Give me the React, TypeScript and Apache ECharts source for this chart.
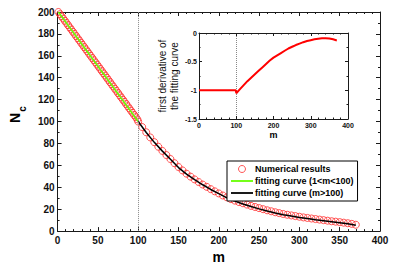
import React, { useEffect, useRef } from "react";
import * as echarts from "echarts";

// Numerical results (linear part, m = 1..99)
const mLin = [1, 3, 5, 7, 9, 11, 13, 15, 17, 19, 21, 23, 25, 27, 29, 31, 33, 35, 37, 39, 41, 43, 45, 47, 49, 51, 53, 55, 57, 59, 61, 63, 65, 67, 69, 71, 73, 75, 77, 79, 81, 83, 85, 87, 89, 91, 93, 95, 97, 99];
const nLin = [200, 198, 196, 194, 192, 190, 188, 186, 184, 182, 180, 178, 176, 174, 172, 170, 168, 166, 164, 162, 160, 158, 156, 154, 152, 150, 148, 146, 144, 142, 140, 138, 136, 134, 132, 130, 128, 126, 124, 122, 120, 118, 116, 114, 112, 110, 108, 106, 104, 102];
// Numerical results (m >= 100)
const mTail = [100, 105, 110, 115, 120, 125, 130, 135, 140, 145, 150, 155, 160, 165, 170, 175, 180, 185, 190, 195, 200, 205, 210, 215, 220, 225, 230, 235, 240, 245, 250, 255, 260, 265, 270, 275, 280, 285, 290, 295, 300, 305, 310, 315, 320, 325, 330, 335, 340, 345, 350, 355, 360, 365, 370];
const nTail = [100, 95, 90.2, 85.5, 81.2, 77, 73.2, 69.4, 65.8, 62, 58.5, 55.4, 52.4, 49.7, 47.2, 44.8, 42.5, 40.4, 38.3, 36.3, 34.4, 32.5, 30.8, 29.2, 27.8, 26.5, 25.4, 24.2, 23, 22, 21, 20, 19, 18.1, 17.2, 16.4, 15.6, 14.9, 14.3, 13.7, 13.1, 12.5, 12, 11.5, 11, 10.5, 10, 9.5, 9, 8.6, 8.2, 7.7, 7.2, 6.6, 5.8];

// fitting curve (1<m<100)
const fit1M = [1, 100];
const fit1N = [200, 100];
// fitting curve (m>100)
const fit2M = [100, 110, 120, 130, 140, 150, 160, 170, 180, 190, 200, 210, 220, 230, 240, 250, 260, 270, 280, 290, 300, 310, 320, 330, 340, 350, 360, 370];
const fit2N = [100, 90, 81, 73, 65.5, 58, 52, 47, 42.3, 38, 34.2, 30.4, 27.4, 24.8, 22.4, 20.3, 18.3, 16.6, 15, 13.7, 12.5, 11.4, 10.4, 9.5, 8.6, 7.7, 6.7, 5.4];

// inset: first derivative of the fitting curve
const derivM = [0, 99, 100, 110, 120, 130, 140, 150, 160, 170, 180, 190, 200, 210, 220, 230, 240, 250, 260, 270, 280, 290, 300, 310, 320, 330, 340, 350, 360, 370];
const derivV = [-1, -1, -1.05, -0.98, -0.91, -0.84, -0.78, -0.72, -0.66, -0.6, -0.54, -0.48, -0.43, -0.39, -0.35, -0.31, -0.27, -0.24, -0.21, -0.185, -0.16, -0.14, -0.125, -0.11, -0.1, -0.092, -0.09, -0.095, -0.11, -0.13];

const mainXTicks = { min: 0, max: 400, interval: 50 };
const mainYTicks = { min: 0, max: 200, interval: 20 };
const insetXTicks = { min: 0, max: 400, interval: 100 };
const insetYTicks = { min: -1.5, max: 0, interval: 0.5 };

const FONT = "'Liberation Sans', Arial, Helvetica, sans-serif";
const AX = "#1a1a1a";
const LINE_ICON = "path://M0,0L22,0L22,1.8L0,1.8Z";

const zip = (a: number[], b: number[]) => a.map((v, i) => [v, b[i]]);

function axisBase(showLabel: boolean, fontSize: number, margin: number) {
  return {
    axisLine: { show: true, onZero: false, lineStyle: { color: AX, width: 1 } },
    axisTick: { show: true, inside: true, length: 4, lineStyle: { color: AX } },
    minorTick: { show: true, length: 2, lineStyle: { color: AX } },
    splitLine: { show: false },
    axisLabel: {
      show: showLabel,
      color: "#111",
      fontFamily: FONT,
      fontWeight: "bold",
      fontSize,
      margin,
    },
  };
}

export default function App() {
  const ref = useRef<HTMLDivElement>(null);
  useEffect(() => {
    if (!ref.current) return;
    const chart = echarts.init(ref.current, undefined, { renderer: "svg" });
    const option: any = {
      animation: false,
      backgroundColor: "#fff",
      textStyle: { fontFamily: FONT },
      grid: [
        { left: 39, top: 12, width: 341, height: 228, containLabel: false },
        { left: 199, top: 33, width: 149, height: 86, show: true, backgroundColor: "#fff", borderWidth: 0, z: 5 },
      ],
      xAxis: [
        {
          type: "value", gridIndex: 0, position: "bottom", ...mainXTicks,
          ...axisBase(true, 10, 4),
          minorTick: { show: true, splitNumber: 5, length: 2, lineStyle: { color: AX } },
          name: "m", nameLocation: "middle", nameGap: 14,
          nameTextStyle: { fontSize: 14, fontWeight: "bold", color: "#000", fontFamily: FONT },
        },
        {
          type: "value", gridIndex: 0, position: "top", ...mainXTicks,
          ...axisBase(false, 10, 4),
          minorTick: { show: true, splitNumber: 5, length: 2, lineStyle: { color: AX } },
        },
        {
          type: "value", gridIndex: 1, position: "bottom", ...insetXTicks,
          ...axisBase(true, 7, 3),
          axisTick: { show: true, inside: true, length: 3, lineStyle: { color: AX } },
          minorTick: { show: true, splitNumber: 5, length: 1.5, lineStyle: { color: AX } },
          name: "m", nameLocation: "middle", nameGap: 11,
          nameTextStyle: { fontSize: 9, fontWeight: "bold", color: "#000", fontFamily: FONT },
          z: 6,
        },
        {
          type: "value", gridIndex: 1, position: "top", ...insetXTicks,
          ...axisBase(false, 7, 3),
          axisTick: { show: true, inside: true, length: 3, lineStyle: { color: AX } },
          minorTick: { show: true, splitNumber: 5, length: 1.5, lineStyle: { color: AX } },
          z: 6,
        },
      ],
      yAxis: [
        {
          type: "value", gridIndex: 0, position: "left", ...mainYTicks,
          ...axisBase(true, 10, 3),
          minorTick: { show: true, splitNumber: 2, length: 2, lineStyle: { color: AX } },
          name: "{n|N}{c|c}", nameLocation: "middle", nameGap: 21, nameRotate: 90,
          nameTextStyle: {
            color: "#000",
            padding: [0, 0, 0, 14],
            rich: {
              n: { fontSize: 14, fontWeight: "bold", fontFamily: FONT, color: "#000" },
              c: { fontSize: 10, fontWeight: "bold", fontFamily: FONT, color: "#000", verticalAlign: "bottom", padding: [0, 0, -5, 1] },
            },
          },
        },
        {
          type: "value", gridIndex: 0, position: "right", ...mainYTicks,
          ...axisBase(false, 10, 3),
          minorTick: { show: true, splitNumber: 2, length: 2, lineStyle: { color: AX } },
        },
        {
          type: "value", gridIndex: 1, position: "left", ...insetYTicks,
          ...axisBase(true, 7, 2),
          axisTick: { show: true, inside: true, length: 3, lineStyle: { color: AX } },
          minorTick: { show: true, splitNumber: 2, length: 1.5, lineStyle: { color: AX } },
          name: "first derivative of\nthe fitting curve", nameLocation: "middle", nameGap: 19,
          nameTextStyle: { fontSize: 10, color: "#111", fontFamily: FONT, lineHeight: 12 },
          z: 6,
        },
        {
          type: "value", gridIndex: 1, position: "right", ...insetYTicks,
          ...axisBase(false, 7, 2),
          axisTick: { show: true, inside: true, length: 3, lineStyle: { color: AX } },
          minorTick: { show: true, splitNumber: 2, length: 1.5, lineStyle: { color: AX } },
          z: 6,
        },
      ],
      legend: {
        data: [
          { name: "Numerical results", icon: "circle", itemStyle: { color: "rgba(255,255,255,0)", borderColor: "#ff2a2a", borderWidth: 1 } },
          { name: "fitting curve (1<m<100)", icon: LINE_ICON },
          { name: "fitting curve (m>100)", icon: LINE_ICON },
        ],
        symbolKeepAspect: true,
        orient: "vertical",
        left: 227,
        top: 161,
        padding: [3, 4, 3, 4],
        itemGap: 2,
        itemWidth: 22,
        itemHeight: 7,
        backgroundColor: "#fff",
        borderColor: "#000",
        borderWidth: 1,
        borderRadius: 0,
        textStyle: { fontFamily: FONT, fontSize: 9, fontWeight: "bold", color: "#000", padding: [0, 0, 0, -3], lineHeight: 10 },
        z: 10,
      },
      series: [
        {
          name: "Numerical results",
          type: "scatter",
          xAxisIndex: 0,
          yAxisIndex: 0,
          data: [...zip(mLin, nLin), ...zip(mTail, nTail)],
          symbol: "circle",
          symbolSize: 7,
          itemStyle: { color: "rgba(255,255,255,0)", borderColor: "#ff2a2a", borderWidth: 1 },
          z: 2,
        },
        {
          name: "fitting curve (1<m<100)",
          type: "line",
          xAxisIndex: 0,
          yAxisIndex: 0,
          data: zip(fit1M, fit1N),
          symbol: "none",
          lineStyle: { color: "#66ff00", width: 1.5 },
          itemStyle: { color: "#66ff00" },
          z: 3,
          markLine: {
            silent: true,
            symbol: "none",
            label: { show: false },
            lineStyle: { color: "#888", type: "dotted", width: 1 },
            data: [{ xAxis: 100 }],
          },
        },
        {
          name: "fitting curve (m>100)",
          type: "line",
          xAxisIndex: 0,
          yAxisIndex: 0,
          data: zip(fit2M, fit2N),
          symbol: "none",
          smooth: false,
          lineStyle: { color: "#000", width: 1.5 },
          itemStyle: { color: "#000" },
          z: 3,
        },
        {
          name: "derivative",
          type: "line",
          xAxisIndex: 2,
          yAxisIndex: 2,
          data: zip(derivM, derivV),
          symbol: "none",
          lineStyle: { color: "#ff0000", width: 2 },
          itemStyle: { color: "#ff0000" },
          z: 7,
          markLine: {
            silent: true,
            symbol: "none",
            label: { show: false },
            lineStyle: { color: "#888", type: "dotted", width: 1 },
            data: [{ xAxis: 100 }],
          },
        },
      ],
    };
    chart.setOption(option);
    return () => chart.dispose();
  }, []);
  return <div ref={ref} style={{ position: "fixed", left: 0, top: 0, width: 407, height: 269 }} />;
}
